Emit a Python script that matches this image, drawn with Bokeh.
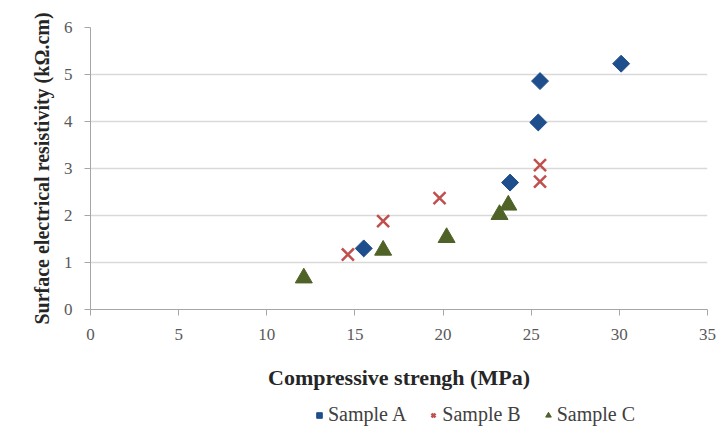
from bokeh.plotting import figure
from bokeh.layouts import column
from bokeh.models import Range1d, Legend, LegendItem, FixedTicker
from bokeh.embed import file_html
from bokeh.resources import INLINE

a_x = [15.5, 23.8, 25.4, 25.5, 30.1]
a_y = [1.30, 2.70, 3.98, 4.86, 5.23]
b_x = [14.6, 16.6, 19.8, 25.5, 25.5]
b_y = [1.17, 1.88, 2.37, 3.07, 2.72]
c_x = [12.1, 16.6, 20.2, 23.2, 23.7]
c_y = [0.67, 1.26, 1.53, 2.02, 2.22]
x_ticks = [0, 5, 10, 15, 20, 25, 30, 35]
y_ticks = [0, 1, 2, 3, 4, 5, 6]
labels = ["Sample A", "Sample B", "Sample C"]

FONT = "Liberation Serif"
STYLE_A = dict(marker="square", angle=0.785398, size=12, fill_color="#1f4e8c", line_color="#1f4e8c")
STYLE_B = dict(marker="x", size=17, line_color="#c0504d", line_width=2.5)
STYLE_C = dict(marker="triangle", size=17, fill_color="#4f6228", line_color="#4f6228")

p = figure(frame_width=617, frame_height=282, output_backend="svg", toolbar_location=None,
           x_range=Range1d(0, 35), y_range=Range1d(0, 6),
           min_border_left=90, min_border_right=17, min_border_top=27, min_border_bottom=86)
p.outline_line_color = None
p.background_fill_color = "white"

p.xgrid.grid_line_color = None
p.ygrid.grid_line_color = "#d9d9d9"
p.ygrid.grid_line_width = 1.5

for ax in (p.xaxis, p.yaxis):
    ax.axis_line_color = "#a6a6a6"
    ax.major_tick_line_color = "#a6a6a6"
    ax.minor_tick_line_color = None
    ax.major_tick_in = 0
    ax.major_tick_out = 6
    ax.major_label_text_font = FONT
    ax.major_label_text_font_size = "17px"
    ax.major_label_text_color = "#595959"
    ax.axis_label_text_font = FONT
    ax.axis_label_text_font_style = "bold"
    ax.axis_label_text_color = "#262626"

p.xaxis.ticker = FixedTicker(ticks=x_ticks)
p.yaxis.ticker = FixedTicker(ticks=y_ticks)
p.xaxis.axis_label = "Compressive strengh (MPa)"
p.yaxis.axis_label = "Surface electrical resistivity (kΩ.cm)"
p.xaxis.axis_label_text_font_size = "22px"
p.yaxis.axis_label_text_font_size = "20px"
p.xaxis.major_label_standoff = 13
p.yaxis.major_label_standoff = 12
p.xaxis.axis_label_standoff = 22
p.yaxis.axis_label_standoff = 8

p.scatter(a_x, a_y, **STYLE_A)
p.scatter(b_x, b_y, **STYLE_B)
p.scatter(c_x, c_y, **STYLE_C)

# legend strip below the chart (same series, drawn outside its visible range)
q = figure(width=724, height=36, output_backend="svg", toolbar_location=None,
           x_range=Range1d(100, 101), y_range=Range1d(100, 101),
           x_axis_location=None, y_axis_location=None, min_border=0)
q.outline_line_color = None
q.grid.visible = False
la = q.scatter(a_x, a_y, **STYLE_A)
lb = q.scatter(b_x, b_y, **STYLE_B)
lc = q.scatter(c_x, c_y, **STYLE_C)

legend = Legend(items=[LegendItem(label=labels[0], renderers=[la]),
                       LegendItem(label=labels[1], renderers=[lb]),
                       LegendItem(label=labels[2], renderers=[lc])],
                orientation="horizontal", location=(222, 5),
                label_text_font=FONT, label_text_font_size="20px", label_text_color="#404040",
                glyph_width=14, glyph_height=14, label_standoff=2, spacing=20,
                border_line_color=None, background_fill_alpha=0, padding=0, margin=0)
q.add_layout(legend)

layout = column(p, q, spacing=0)
open("out.html", "w").write(file_html(layout, INLINE))
